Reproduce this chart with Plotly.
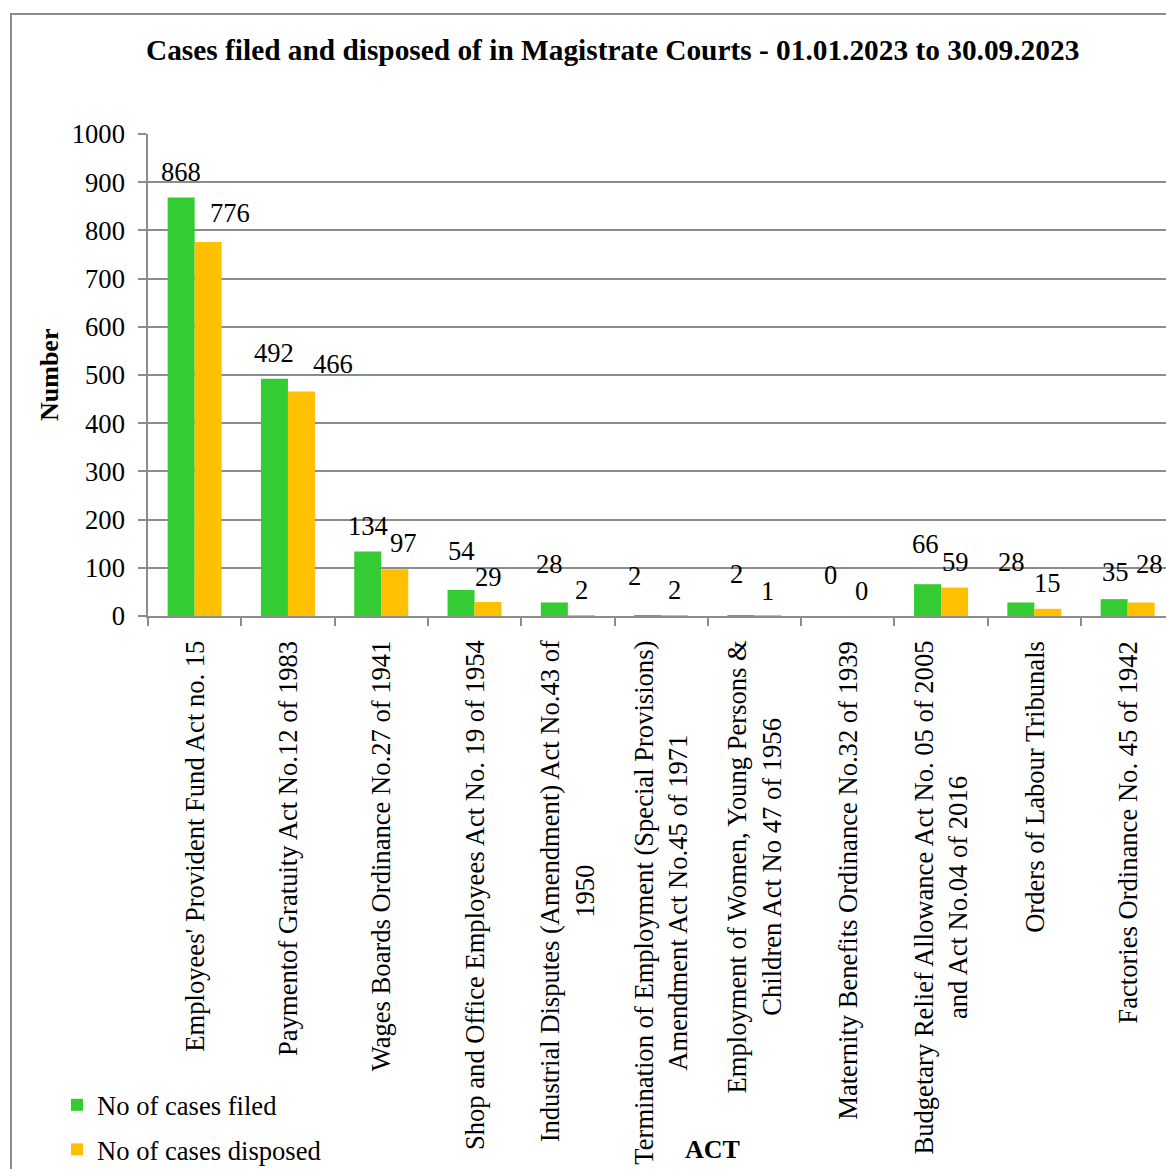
import plotly.graph_objects as go

# ---- data -------------------------------------------------------------
acts = [
    "Employees' Provident Fund Act no. 15",
    "Paymentof Gratuity Act No.12 of 1983",
    "Wages Boards Ordinance No.27 of 1941",
    "Shop and Office Employees Act No. 19 of 1954",
    "Industrial Disputes (Amendment) Act No.43 of<br>1950",
    "Termination of Employment (Special Provisions)<br>Amendment Act No.45 of 1971",
    "Employment of Women, Young Persons &<br>Children Act No 47 of 1956",
    "Maternity Benefits Ordinance No.32 of 1939",
    "Budgetary Relief Allowance Act No. 05 of 2005<br>and Act No.04 of 2016",
    "Orders of Labour Tribunals",
    "Factories Ordinance No. 45 of 1942",
]
cases_filed = [868, 492, 134, 54, 28, 2, 2, 0, 66, 28, 35]
cases_disposed = [776, 466, 97, 29, 2, 2, 1, 0, 59, 15, 28]

series_names = ["No of cases filed", "No of cases disposed"]
y_ticks = [0, 100, 200, 300, 400, 500, 600, 700, 800, 900, 1000]

# ---- label placement (pixel nudges for the value labels) --------------
filed_dx = [0, 0, 0, 0, -5, -13, -4, -4, -2, -9, 1]
filed_rise = [26, 26, 25, 39, 39, 39, 41, 41, 40, 41, 27]
disp_dx = [22, 32, 9, 0, 0, 0, 0, 0, 1, 0, 8]
disp_rise = [29, 27, 26, 25, 25, 25, 25, 25, 26, 26, 39]

# ---- styling ----------------------------------------------------------
GREEN = "#33CC33"
YELLOW = "#FFC000"
GRID = "#8C8C8C"
FONT = "Liberation Serif"
FS = 26.6
W, H = 1166, 1169
L, R, T, B = 148, 0, 134, 553
PW, PH = W - L - R, H - T - B
HALF_BAR = 13.5


def px_x(px):
    """Horizontal pixel -> paper coordinate."""
    return (px - L) / PW


def px_y(py):
    """Vertical pixel -> paper coordinate."""
    return (H - B - py) / PH


fig = go.Figure()
fig.add_trace(go.Bar(x=acts, y=cases_filed, name=series_names[0],
                     marker=dict(color=GREEN, line=dict(width=0)),
                     legendgroup="a", hoverinfo="skip"))
fig.add_trace(go.Bar(x=acts, y=cases_disposed, name=series_names[1],
                     marker=dict(color=YELLOW, line=dict(width=0)),
                     legendgroup="b", hoverinfo="skip"))

annotations = []
# value labels
for i, act in enumerate(acts):
    annotations.append(dict(x=act, y=cases_filed[i], xref="x", yref="y",
                            text=str(cases_filed[i]), showarrow=False,
                            xanchor="center", yanchor="middle",
                            xshift=-HALF_BAR + filed_dx[i], yshift=filed_rise[i],
                            font=dict(family=FONT, size=FS, color="black")))
    annotations.append(dict(x=act, y=cases_disposed[i], xref="x", yref="y",
                            text=str(cases_disposed[i]), showarrow=False,
                            xanchor="center", yanchor="middle",
                            xshift=HALF_BAR + disp_dx[i], yshift=disp_rise[i],
                            font=dict(family=FONT, size=FS, color="black")))
# category labels (rotated, centred lines)
for act in acts:
    annotations.append(dict(x=act, y=px_y(638.5), xref="x", yref="paper",
                            text=act, showarrow=False, textangle=-90,
                            xanchor="center", yanchor="top", align="center",
                            font=dict(family=FONT, size=26.6, color="black")))
# title and axis titles
annotations.append(dict(x=px_x(612), y=px_y(50.5), xref="paper", yref="paper",
                        text="<b>Cases filed and disposed of in Magistrate Courts - 01.01.2023 to 30.09.2023</b>",
                        showarrow=False, xanchor="center", yanchor="middle",
                        font=dict(family=FONT, size=29.35, color="black")))
annotations.append(dict(x=px_x(49), y=0.5, xref="paper", yref="paper",
                        text="<b>Number</b>", showarrow=False, textangle=-90,
                        xanchor="center", yanchor="middle",
                        font=dict(family=FONT, size=26, color="black")))
annotations.append(dict(x=px_x(712.5), y=px_y(1149), xref="paper", yref="paper",
                        text="<b>ACT</b>", showarrow=False,
                        xanchor="center", yanchor="middle",
                        font=dict(family=FONT, size=26, color="black")))

fig.update_layout(
    width=W, height=H,
    margin=dict(l=L, r=R, t=T, b=B, pad=0, autoexpand=False),
    paper_bgcolor="white", plot_bgcolor="white",
    barmode="group", bargap=0.421, bargroupgap=0,
    font=dict(family=FONT, size=FS, color="black"),
    showlegend=True,
    legend=dict(xref="container", yref="container",
                x=57 / W, y=1 - 1081 / H, xanchor="left", yanchor="top",
                traceorder="grouped", tracegroupgap=7,
                font=dict(family=FONT, size=FS, color="black"),
                bgcolor="rgba(0,0,0,0)", borderwidth=0),
    annotations=annotations,
    shapes=[dict(type="rect", xref="paper", yref="paper",
                 x0=px_x(11), x1=px_x(1200), y0=px_y(14), y1=px_y(1200),
                 line=dict(color=GRID, width=2), fillcolor="rgba(0,0,0,0)",
                 layer="below")],
    hovermode=False,
)
fig.update_xaxes(type="category", range=[-0.5, 10.411],
                 showticklabels=False, showgrid=False,
                 showline=True, linecolor=GRID, linewidth=1.5,
                 ticks="outside", tickson="boundaries", ticklen=8,
                 tickcolor=GRID, tickwidth=1.5, zeroline=False)
fig.update_yaxes(range=[0, 1000], tickvals=y_ticks,
                 ticktext=[str(v) for v in y_ticks],
                 showgrid=True, gridcolor=GRID, gridwidth=1.5,
                 showline=True, linecolor=GRID, linewidth=1.5,
                 ticks="outside", ticklen=8, tickcolor=GRID, tickwidth=1.5,
                 ticklabelstandoff=8, zeroline=False,
                 tickfont=dict(family=FONT, size=FS, color="black"))

fig.write_html("out.html")
